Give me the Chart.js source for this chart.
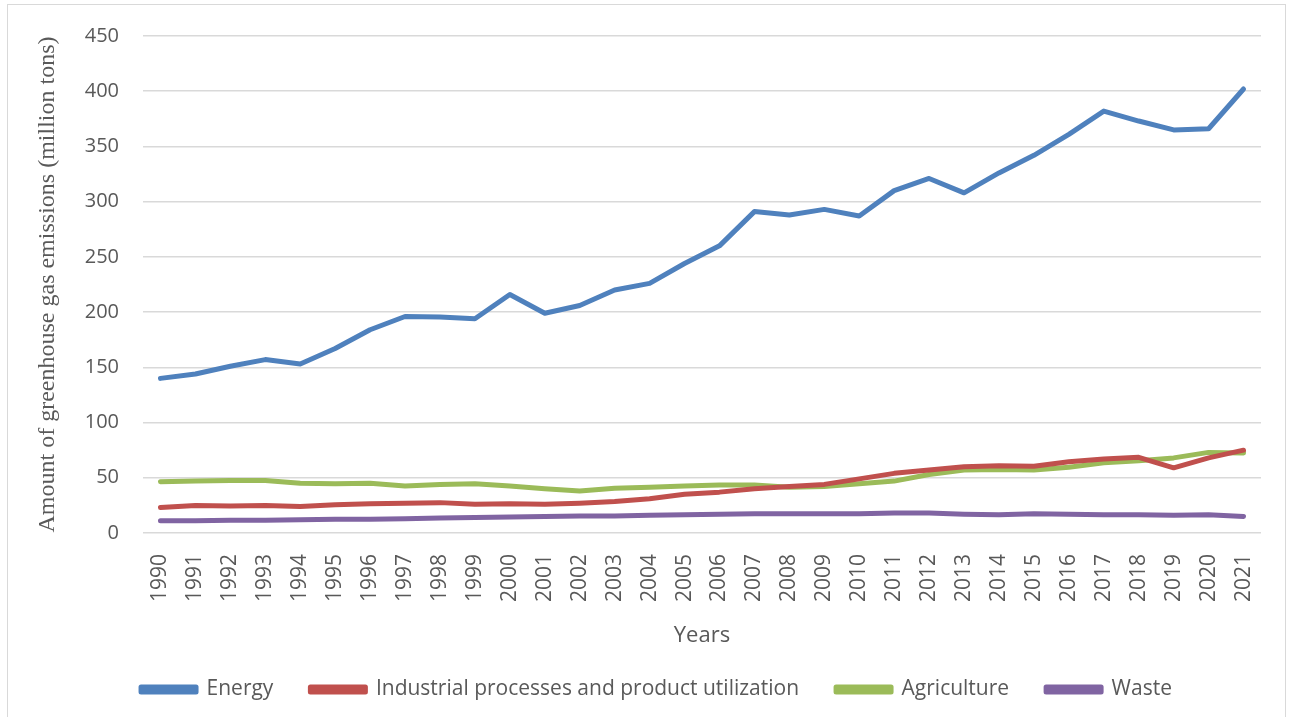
<!DOCTYPE html>
<html>
<head>
<meta charset="utf-8">
<script src="https://cdn.jsdelivr.net/npm/chart.js@4"></script>
<style>
    html, body { margin: 0; padding: 0; background: #fff; }
    #wrap { position: relative; width: 1291px; height: 717px; overflow: hidden; }
    #chartEmisi { position: absolute; left: 0; top: 0; }
    #frame {
        position: absolute; left: 7px; top: 4px; width: 1277px; height: 730px;
        border: 1.5px solid #d9d9d9; pointer-events: none;
    }
</style>
</head>
<body>
<div id="wrap">
    <canvas id="chartEmisi" width="1291" height="717"></canvas>
    <div id="frame"></div>
</div>
<script>
// data (perkiraan, juta ton)
const years = ["1990", "1991", "1992", "1993", "1994", "1995", "1996", "1997", "1998", "1999",
               "2000", "2001", "2002", "2003", "2004", "2005", "2006", "2007", "2008", "2009",
               "2010", "2011", "2012", "2013", "2014", "2015", "2016", "2017", "2018", "2019",
               "2020", "2021"];

const energy = [140, 144, 151, 157, 153, 167, 184, 196, 195.5, 194,
                216, 199, 206, 220, 226, 244, 260, 291, 288, 293,
                287, 310, 321, 308, 326, 342, 361, 382, 373, 365,
                366, 402];

const industrial = [23, 25, 24.5, 25, 24, 25.5, 26.5, 27, 27.5, 26,
                    26.5, 26, 27, 28.5, 31, 35, 37, 40, 42, 44,
                    49, 54, 57, 60, 61, 60.5, 64.5, 67, 68.5, 59,
                    68, 75];

const agriculture = [46.5, 47, 47.5, 47.5, 45, 44.5, 45, 42.5, 44, 44.5,
                     42.5, 40, 38, 40.5, 41.5, 42.5, 43.5, 43.5, 41.5, 42,
                     44.5, 47, 53, 57, 57.5, 57, 59.5, 63.5, 65.5, 68,
                     73, 72.5];

const waste = [11, 11, 11.5, 11.5, 12, 12.5, 12.5, 13, 13.5, 14,
               14.5, 15, 15.5, 15.5, 16, 16.5, 17, 17.5, 17.5, 17.5,
               17.5, 18, 18, 17, 16.5, 17.5, 17, 16.5, 16.5, 16,
               16.5, 15];

const yTicks = [0, 50, 100, 150, 200, 250, 300, 350, 400, 450];

const textColor = "#595959";
const gridColor = "#d9d9d9";

function seri(label, data, color) {
    return {
        label: label,
        data: data,
        borderColor: color,
        backgroundColor: color,
        borderWidth: 5,
        pointRadius: 0,
        pointHoverRadius: 0,
        tension: 0,
        borderCapStyle: "round",
        borderJoinStyle: "round",
        fill: false
    };
}

// geser legend: sedikit ke kanan, dan naik karena padding legend dipakai juga untuk jarak antar item
const geserLegend = {
    id: "geserLegend",
    afterLayout(chart) {
        const lg = chart.legend;
        if (lg) {
            lg.left += 26;
            lg.right += 26;
            lg.top -= 28;
            lg.bottom -= 28;
        }
    }
};

document.addEventListener("DOMContentLoaded", function () {
    const ctx = document.getElementById("chartEmisi").getContext("2d");

    new Chart(ctx, {
        type: "line",
        data: {
            labels: years,
            datasets: [
                seri("Energy", energy, "#4f81bd"),
                seri("Industrial processes and product utilization", industrial, "#c0504d"),
                seri("Agriculture", agriculture, "#9bbb59"),
                seri("Waste", waste, "#8064a2")
            ]
        },
        plugins: [geserLegend],
        options: {
            responsive: false,
            animation: false,
            layout: {
                padding: { top: 35, right: 30, bottom: -21, left: 0 }
            },
            scales: {
                x: {
                    offset: true,
                    grid: { display: false, drawTicks: false },
                    border: { display: false },
                    ticks: {
                        color: textColor,
                        font: { family: "Open Sans", size: 21 },
                        minRotation: 90,
                        maxRotation: 90,
                        autoSkip: false,
                        padding: 21
                    },
                    title: {
                        display: true,
                        text: "Years",
                        color: textColor,
                        font: { family: "Open Sans", size: 22 },
                        padding: { top: 0, bottom: 21 }
                    },
                    afterFit: function (scale) { scale.height = 137; }
                },
                y: {
                    min: 0,
                    max: 450,
                    afterBuildTicks: function (scale) {
                        scale.ticks = yTicks.map(v => ({ value: v }));
                    },
                    grid: { color: gridColor, lineWidth: 1.5, drawTicks: false },
                    border: { display: false },
                    ticks: {
                        color: textColor,
                        font: { family: "Open Sans", size: 20 },
                        padding: 24
                    },
                    title: {
                        display: true,
                        text: "Amount of greenhouse gas emissions (million tons)",
                        color: textColor,
                        font: { family: "Liberation Serif", size: 24 },
                        padding: { top: 33, bottom: 0 }
                    },
                    afterFit: function (scale) { scale.width = 143; }
                }
            },
            plugins: {
                legend: {
                    position: "bottom",
                    labels: {
                        color: textColor,
                        font: { family: "Open Sans", size: 21 },
                        boxWidth: 55,
                        boxHeight: 5,
                        padding: 37
                    }
                },
                tooltip: { enabled: false }
            }
        }
    });
});
</script>
</body>
</html>
